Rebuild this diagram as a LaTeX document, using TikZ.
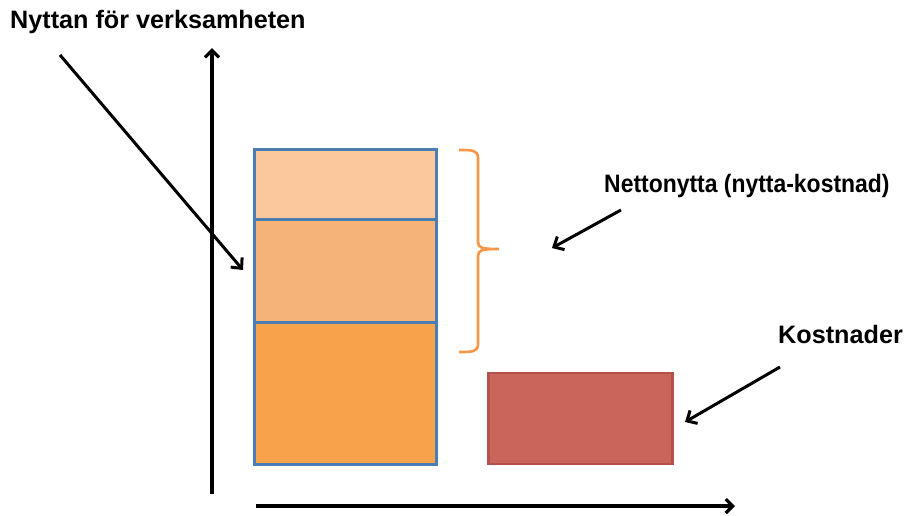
\documentclass[tikz,border=0pt]{standalone}
\usepackage{graphicx}
\usepackage{fontspec}
\setmainfont{Liberation Sans}
\usetikzlibrary{arrows.meta}
\definecolor{topc}{HTML}{FAC89C}
\definecolor{midc}{HTML}{F5B378}
\definecolor{botc}{HTML}{F6A34B}
\definecolor{edgec}{HTML}{4A7DB4}
\definecolor{redc}{HTML}{C9655B}
\definecolor{rededge}{HTML}{B5514A}
\definecolor{bracec}{HTML}{F79646}
\begin{document}
\begin{tikzpicture}[x=1pt,y=-1pt,
  bar/.style={draw=edgec,line width=3pt,anchor=north west,inner sep=0pt,minimum width=182pt},
  lbl/.style={font=\bfseries\fontsize{25.2}{28}\selectfont,inner sep=0pt},
  pointer/.style={line width=3pt,-{Straight Barb[length=8pt,width=15pt,line width=3pt]}},
  axis/.style={line width=3.4pt,-{Straight Barb[length=7pt,width=14pt,line width=3.2pt]}}]
\useasboundingbox (0,0) rectangle (921,515);
% axes
\coordinate (ya) at (212,494);
\coordinate (yb) at (212,48);
\coordinate (xa) at (256,506);
\coordinate (xb) at (735,506);
\draw[axis] (ya) -- (yb);
\draw[axis] (xa) -- (xb);
% bars
\node[bar,fill=topc,minimum height=70pt] (b1) at (253,147.5) {};
\node[bar,fill=midc,minimum height=103pt] (b2) at (253,217.5) {};
\node[bar,fill=botc,minimum height=142pt] (b3) at (253,320.5) {};
\node[draw=rededge,fill=redc,line width=2.6pt,anchor=north west,inner sep=0pt,minimum width=184pt,minimum height=91pt] (cost) at (487,371.5) {};
% brace
\draw[bracec,line width=2.6pt] (459,150) .. controls (472,150) and (478,150) .. (478,158)
  -- (478,242) .. controls (478,248) and (482,249) .. (499,249)
  .. controls (482,249) and (478,250) .. (478,256)
  -- (478,344) .. controls (478,352) and (472,352) .. (459,352);
% labels
\node[lbl,anchor=base west] (t1) at (10,28) {Nyttan för verksamheten};
\node[lbl,anchor=base west] (t2) at (604,192) {\scalebox{0.91}[1]{Nettonytta (nytta-kostnad)}};
\node[lbl,anchor=base west] (t3) at (778,343) {Kostnader};
% pointers
\coordinate (p1a) at (60,55);
\coordinate (p1b) at (243,270);
\coordinate (p2a) at (621,210);
\coordinate (p2b) at (552,248);
\coordinate (p3a) at (780,367);
\coordinate (p3b) at (685,422);
\draw[pointer] (p1a) -- (p1b);
\draw[pointer] (p2a) -- (p2b);
\draw[pointer] (p3a) -- (p3b);
\end{tikzpicture}
\end{document}
